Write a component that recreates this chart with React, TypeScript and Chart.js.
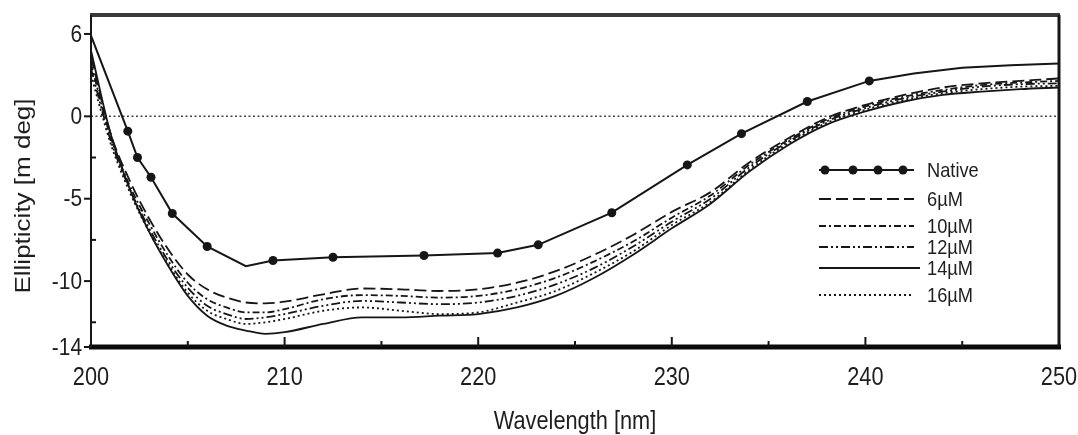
import React, { useEffect, useRef } from "react";
import { Chart, registerables } from "chart.js";

Chart.register(...registerables);

// ---------- data ----------
const wavelengths = [200, 201, 202, 203, 204, 205, 206, 207, 208, 209, 210, 212, 214, 216, 218, 220, 222, 224, 226, 228, 230, 232, 234, 236, 238, 240, 242, 244, 246, 248, 250];

const nativeWavelengths = [200, 201.9, 202.4, 203.1, 204.2, 206.0, 208.0, 209.4, 212.5, 217.2, 221.0, 223.1, 226.9, 230.8, 233.6, 237.0, 240.2, 242.5, 245, 247.5, 250];
const nativeValues = [4.9, -0.9, -2.5, -3.7, -5.9, -7.9, -9.1, -8.75, -8.55, -8.45, -8.3, -7.8, -5.85, -2.95, -1.05, 0.9, 2.15, 2.6, 2.95, 3.1, 3.2];
const nativeMarked = [false, true, true, true, true, true, false, true, true, true, true, true, true, true, true, true, true, false, false, false, false];

const values6uM = [3.6, -1.0, -3.9, -6.2, -8.1, -9.6, -10.5, -11.0, -11.3, -11.35, -11.25, -10.8, -10.45, -10.5, -10.6, -10.5, -10.1, -9.4, -8.4, -7.2, -5.8, -4.6, -2.8, -1.35, -0.1, 0.7, 1.3, 1.75, 2.0, 2.15, 2.3];
const values10uM = [3.2, -1.2, -4.2, -6.5, -8.5, -10.1, -11.1, -11.6, -11.9, -11.9, -11.7, -11.1, -10.85, -10.9, -11.0, -10.9, -10.5, -9.8, -8.8, -7.6, -6.15, -4.8, -2.95, -1.45, -0.2, 0.6, 1.2, 1.6, 1.9, 2.05, 2.15];
const values12uM = [2.9, -1.4, -4.4, -6.8, -8.8, -10.4, -11.5, -12.0, -12.3, -12.2, -12.0, -11.5, -11.2, -11.3, -11.4, -11.3, -10.9, -10.2, -9.2, -7.9, -6.4, -5.0, -3.1, -1.55, -0.3, 0.5, 1.1, 1.5, 1.8, 1.95, 2.0];
const values14uM = [4.0, -1.0, -4.4, -7.0, -9.1, -10.9, -12.1, -12.7, -13.0, -13.2, -13.1, -12.6, -12.2, -12.2, -12.1, -12.0, -11.6, -10.9, -9.8, -8.4, -6.8, -5.3, -3.35, -1.75, -0.5, 0.3, 0.9, 1.3, 1.5, 1.65, 1.75];
const values16uM = [2.5, -1.6, -4.6, -7.0, -9.0, -10.7, -11.8, -12.3, -12.6, -12.5, -12.3, -11.8, -11.6, -11.8, -12.0, -11.9, -11.3, -10.6, -9.5, -8.2, -6.6, -5.2, -3.25, -1.65, -0.4, 0.4, 1.0, 1.4, 1.65, 1.8, 1.85];

const seriesLabels = ["Native", "6\u00b5M", "10\u00b5M", "12\u00b5M", "14\u00b5M", "16\u00b5M"];

const xMajorTicks = [200, 210, 220, 230, 240, 250];
const xMinorTicks = [205, 215, 225, 235, 245];
const yTickValues = [5, 0, -5, -10, -14];
const yTickLabels = ["6", "0", "-5", "-10", "-14"];
const yMinorTicks = [-2.5, -7.5, -12.5];

// ---------- styling ----------
const W = 1078;
const H = 435;
const INK = "#161616";
const FONT = "'Liberation Sans', Arial, Helvetica, sans-serif";
const SQUEEZE = 0.87;

function drawText(
  ctx: CanvasRenderingContext2D,
  text: string,
  x: number,
  y: number,
  size: number,
  align: CanvasTextAlign,
  rotated = false
) {
  ctx.save();
  ctx.translate(x, y);
  if (rotated) {
    ctx.rotate(-Math.PI / 2);
    ctx.scale(1, SQUEEZE);
  } else {
    ctx.scale(SQUEEZE, 1);
  }
  ctx.font = `${size}px ${FONT}`;
  ctx.fillStyle = "#1e1e1e";
  ctx.textAlign = align;
  ctx.textBaseline = "middle";
  ctx.fillText(text, 0, 0);
  ctx.restore();
}

const decorPlugin = {
  id: "decor",
  beforeDatasetsDraw(chart: any) {
    const { ctx, chartArea, scales } = chart;
    const y0 = scales.y.getPixelForValue(0);
    ctx.save();
    ctx.strokeStyle = "#444";
    ctx.lineWidth = 1.5;
    ctx.setLineDash([2, 2.5]);
    ctx.beginPath();
    ctx.moveTo(chartArea.left, y0);
    ctx.lineTo(chartArea.right, y0);
    ctx.stroke();
    ctx.restore();
  },
  afterDraw(chart: any) {
    const { ctx, chartArea, scales } = chart;
    const { left, right, top, bottom } = chartArea;
    const xs = scales.x;
    const ys = scales.y;

    ctx.save();
    // frame
    ctx.strokeStyle = "#3a3a3a";
    ctx.lineWidth = 4;
    ctx.beginPath();
    ctx.moveTo(left - 1, top);
    ctx.lineTo(right + 1, top);
    ctx.stroke();
    ctx.strokeStyle = INK;
    ctx.lineWidth = 2;
    ctx.beginPath();
    ctx.moveTo(left, top);
    ctx.lineTo(left, bottom);
    ctx.stroke();
    ctx.lineWidth = 3;
    ctx.beginPath();
    ctx.moveTo(right, top);
    ctx.lineTo(right, bottom);
    ctx.stroke();
    ctx.strokeStyle = "#0a0a0a";
    ctx.lineWidth = 5;
    ctx.beginPath();
    ctx.moveTo(left - 2, bottom);
    ctx.lineTo(right + 2, bottom);
    ctx.stroke();

    // x ticks (inward)
    ctx.strokeStyle = INK;
    ctx.lineWidth = 2;
    xMajorTicks.forEach((v) => {
      const px = xs.getPixelForValue(v);
      ctx.beginPath();
      ctx.moveTo(px, bottom);
      ctx.lineTo(px, bottom - 10);
      ctx.stroke();
    });
    xMinorTicks.forEach((v) => {
      const px = xs.getPixelForValue(v);
      ctx.beginPath();
      ctx.moveTo(px, bottom);
      ctx.lineTo(px, bottom - 6);
      ctx.stroke();
    });
    // y ticks
    yTickValues.forEach((v) => {
      const py = ys.getPixelForValue(v);
      ctx.beginPath();
      ctx.moveTo(left - 7, py);
      ctx.lineTo(left, py);
      ctx.stroke();
    });
    yMinorTicks.forEach((v) => {
      const py = ys.getPixelForValue(v);
      ctx.beginPath();
      ctx.moveTo(left, py);
      ctx.lineTo(left + 5, py);
      ctx.stroke();
    });

    // tick labels
    xMajorTicks.forEach((v) => {
      drawText(ctx, String(v), xs.getPixelForValue(v), bottom + 31, 25, "center");
    });
    yTickValues.forEach((v, i) => {
      drawText(ctx, yTickLabels[i], left - 9, ys.getPixelForValue(v) + 1, 24, "right");
    });

    // axis titles
    drawText(ctx, "Wavelength [nm]", (left + right) / 2, 422, 25, "center");
    drawText(ctx, "Ellipticity [m deg]", 24, 196, 26, "center", true);

    // legend
    const rowY = [170, 199, 226, 247, 268, 295];
    const x1 = 819;
    const x2 = 914;
    chart.data.datasets.forEach((ds: any, i: number) => {
      const y = rowY[i];
      ctx.save();
      ctx.strokeStyle = ds.borderColor;
      ctx.lineWidth = ds.borderWidth;
      ctx.setLineDash(ds.borderDash || []);
      ctx.beginPath();
      ctx.moveTo(x1, y);
      ctx.lineTo(i === 4 ? x2 + 6 : x2, y);
      ctx.stroke();
      ctx.restore();
      if (i === 0) {
        ctx.fillStyle = INK;
        [825, 853, 878, 903].forEach((dx) => {
          ctx.beginPath();
          ctx.arc(dx, y, 4.5, 0, Math.PI * 2);
          ctx.fill();
        });
      }
      drawText(ctx, ds.label, 927, y + 1, 21, "left");
    });
    ctx.restore();
  },
};

function line(label: string, values: number[], dash: number[]) {
  return {
    label,
    data: wavelengths.map((x, i) => ({ x, y: values[i] })),
    borderColor: INK,
    borderWidth: 1.8,
    borderDash: dash,
    pointRadius: 0,
    cubicInterpolationMode: "monotone" as const,
    fill: false,
  };
}

export default function App() {
  const canvasRef = useRef<HTMLCanvasElement | null>(null);

  useEffect(() => {
    if (!canvasRef.current) return;
    const chart = new Chart(canvasRef.current, {
      type: "line",
      data: {
        datasets: [
          {
            label: seriesLabels[0],
            data: nativeWavelengths.map((x, i) => ({ x, y: nativeValues[i] })),
            borderColor: INK,
            borderWidth: 2,
            tension: 0,
            pointRadius: nativeMarked.map((m) => (m ? 4.5 : 0)),
            pointBackgroundColor: INK,
            pointBorderWidth: 0,
            fill: false,
          },
          line(seriesLabels[1], values6uM, [12, 5]),
          line(seriesLabels[2], values10uM, [7, 3, 2, 3]),
          line(seriesLabels[3], values12uM, [9, 3, 2, 3, 2, 3]),
          line(seriesLabels[4], values14uM, []),
          line(seriesLabels[5], values16uM, [2, 3]),
        ] as any,
      },
      options: {
        animation: false,
        responsive: false,
        devicePixelRatio: 1,
        layout: { padding: { left: 0, right: 19, top: 15, bottom: 0 } },
        plugins: { legend: { display: false }, tooltip: { enabled: false } },
        scales: {
          x: {
            type: "linear",
            min: 200,
            max: 250,
            ticks: { display: false },
            grid: { display: false },
            border: { display: false },
            afterFit: (s: any) => {
              s.height = 88;
            },
          },
          y: {
            type: "linear",
            min: -14,
            max: 6.15,
            ticks: { display: false },
            grid: { display: false },
            border: { display: false },
            afterFit: (s: any) => {
              s.width = 91;
            },
          },
        },
      },
      plugins: [decorPlugin],
    });
    return () => chart.destroy();
  }, []);

  return (
    <div style={{ position: "fixed", left: 0, top: 0, width: W, height: H, background: "#fff" }}>
      <canvas ref={canvasRef} width={W} height={H} style={{ display: "block" }} />
    </div>
  );
}
